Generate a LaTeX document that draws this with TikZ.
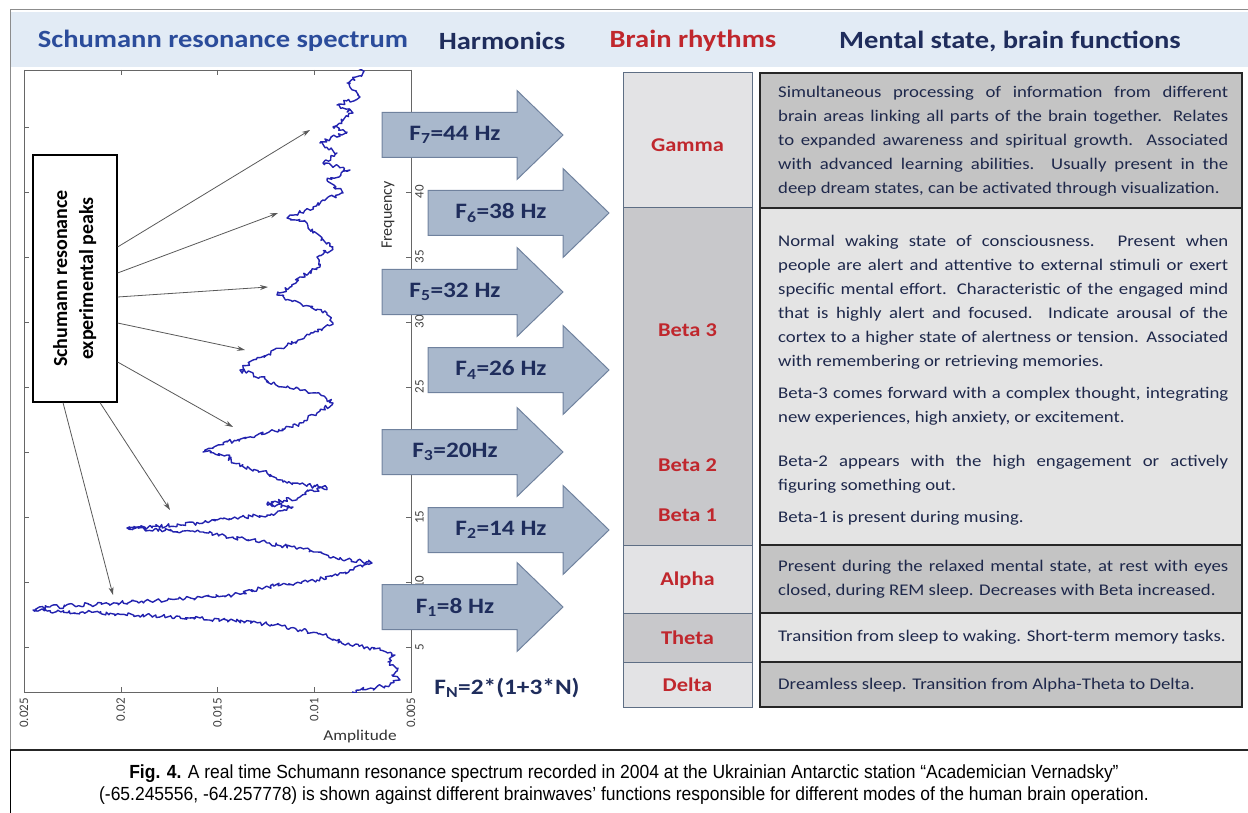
\documentclass[tikz,border=0pt]{standalone}
\usepackage{fontspec}
\setmainfont{Carlito}[FakeStretch=1.15]
\newfontfamily\plainfont{Carlito}
\newfontfamily\capfont{Liberation Sans}[FakeStretch=0.92]
\usetikzlibrary{arrows.meta,decorations.pathmorphing}

\definecolor{headblue}{RGB}{43,76,155}
\definecolor{navy}{RGB}{31,45,92}
\definecolor{desccol}{RGB}{30,40,75}
\definecolor{rhythmred}{RGB}{192,39,45}
\definecolor{bandblue}{RGB}{226,235,245}
\definecolor{arrowfill}{RGB}{169,184,204}
\definecolor{arrowline}{RGB}{112,130,158}
\definecolor{cellline}{RGB}{94,110,132}
\definecolor{lightcell}{RGB}{227,227,229}
\definecolor{darkcell}{RGB}{200,200,203}
\definecolor{lightdesc}{RGB}{228,228,228}
\definecolor{darkdesc}{RGB}{196,196,196}
\definecolor{spec}{RGB}{35,35,175}

\tikzset{
  header/.style={font=\fontsize{24.8}{28}\selectfont\bfseries},
  harm/.style={fill=arrowfill, draw=arrowline, line width=1pt},
  harmtext/.style={font=\fontsize{22}{26}\selectfont\bfseries, text=navy},
  rhythm/.style={font=\fontsize{19.5}{22}\selectfont\bfseries, text=rhythmred},
  cell/.style={draw=cellline, line width=1pt},
  desc/.style={draw=black!85, line width=1.5pt},
  desctext/.style={font=\fontsize{16.3}{24}\selectfont, text=desccol, text width=450pt,
    align=justify, anchor=base west, inner sep=0pt},
  tick/.style={font=\plainfont\fontsize{13}{15}\selectfont, text=black!75, inner sep=1pt},
  peakarrow/.style={draw=black!65, line width=0.8pt, -{Stealth[length=8pt,width=5pt]}},
}

\begin{document}
\begin{tikzpicture}[x=1pt, y=-1pt]
    \useasboundingbox (0,0) rectangle (1248,813);

    % Frame and header band
    \fill[bandblue] (10,12) rectangle (1248,67);
    \draw[black!45, line width=1pt] (1248,10) -- (10,10) -- (10,750);
    \node[header, text=headblue] (hspec) at (223,41) {Schumann resonance spectrum};
    \node[header, text=navy] (hharm) at (502,41) {Harmonics};
    \node[header, text=rhythmred] (hrhythm) at (693,41) {Brain rhythms};
    \node[header, text=navy] (hmental) at (1010,41) {Mental state, brain functions};

    % Spectrum plot
    \draw[black!60, line width=0.8pt] (24,70) rectangle (411,692);
    \foreach \a in {0,...,4} {
        \draw[black!60] (24+96.75*\a,692) -- ++(0,-5);
        \draw[black!60] (24+96.75*\a,70) -- ++(0,5);
    }
    \foreach \f in {5,10,...,45} {
        \draw[black!60] (411,712-13*\f) -- ++(-5,0);
        \draw[black!60] (24,712-13*\f) -- ++(5,0);
        \node[tick, rotate=90, anchor=north] (fq\f) at (414,712-13*\f) {\f};
    }
    \foreach \a/\t in {0/0.025,1/0.02,2/0.015,3/0.01,4/0.005}
        \node[tick, rotate=90, anchor=east] (amp\a) at (24+96.75*\a,697) {\t};
    \node[font=\plainfont\fontsize{16}{18}\selectfont, text=black!80, rotate=90] (freq) at (388,215) {Frequency};
    \node[font=\fontsize{15}{18}\selectfont, text=black!80] (ampl) at (360,736) {Amplitude};

    \begin{scope}
        \clip (24,70) rectangle (411,692);
        \pgfmathsetseed{4711}
        \draw[spec, line width=1.4pt, line join=round, decorate,
              decoration={random steps, segment length=2.2pt, amplitude=2.2pt}]
            plot coordinates {(352,692) (360,690) (385,686) (400,680) (392,675) (398,668)
            (388,662) (395,655) (380,650) (350,645) (323,635) (300,630) (267,624) (200,618)
            (100,613) (33,610) (50,607) (150,601) (233,595) (260,588) (317,580) (343,573)
            (372,563) (333,557) (317,552) (267,543) (233,537) (200,532) (127,528) (183,525)
            (217,520) (267,515) (293,507) (267,504) (300,497) (310,490) (327,488) (283,482)
            (267,473) (233,463) (227,455) (203,452) (227,442) (267,433) (293,427) (317,413)
            (333,403) (317,393) (283,387) (260,377) (240,370) (253,360) (293,343) (313,333)
            (333,323) (327,313) (300,303) (277,295) (290,287) (300,277) (320,267) (317,257)
            (333,247) (313,233) (307,223) (287,218) (313,207) (323,200) (343,193) (327,180)
            (350,170) (323,163) (337,153) (320,143) (347,132) (333,127) (353,113) (337,105)
            (360,97) (347,83) (363,73) (358,68)};
    \end{scope}

    % Peak label and its arrows
    \node[draw=black, line width=1.2pt, fill=white, minimum width=84pt, minimum height=247pt,
          inner sep=0pt] (peaks) at (75,278.5)
        {\rotatebox{90}{\plainfont\fontsize{20}{26}\selectfont\bfseries
         \begin{tabular}{@{}c@{}}Schumann resonance\\experimental peaks\end{tabular}}};
    \coordinate (pk7) at (310,130);
    \coordinate (pk6) at (278,213);
    \coordinate (pk5) at (268,287);
    \coordinate (pk4) at (245,350);
    \coordinate (pk3) at (233,427);
    \coordinate (pk2) at (170,510);
    \coordinate (pk1) at (113,595);
    \draw[peakarrow] ([yshift=31.5pt]peaks.east) -- (pk7);
    \draw[peakarrow] ([yshift=5.5pt]peaks.east) -- (pk6);
    \draw[peakarrow] ([yshift=-18.5pt]peaks.east) -- (pk5);
    \draw[peakarrow] ([yshift=-44.5pt]peaks.east) -- (pk4);
    \draw[peakarrow] ([yshift=-83.5pt]peaks.east) -- (pk3);
    \draw[peakarrow] ([xshift=25pt]peaks.south) -- (pk2);
    \draw[peakarrow] ([xshift=-12pt]peaks.south) -- (pk1);

    % Harmonics
    \foreach \n/\x/\y/\hz in {7/382/135/44 Hz, 6/428/213/38 Hz, 5/382/292/32 Hz,
                              4/428/370/26 Hz, 3/382/452/20Hz, 2/428/530/14 Hz, 1/382/607/8 Hz} {
        \draw[harm] (\x,\y-22.5) -- ++(135,0) -- ++(0,-22) -- (\x+181,\y)
            -- (\x+135,\y+44.5) -- ++(0,-22) -- (\x,\y+22.5) -- cycle;
        \node[harmtext] (h\n) at (\x+73,\y) {F\textsubscript{\n}=\hz};
    }
    \node[harmtext] (fn) at (507,688) {F\textsubscript{N}=2*(1+3*N)};

    % Brain rhythms column
    \draw[cell, fill=lightcell] (623,73) rectangle (752,208);
    \draw[cell, fill=darkcell] (623,208) rectangle (752,545);
    \draw[cell, fill=lightcell] (623,545) rectangle (752,613);
    \draw[cell, fill=darkcell] (623,613) rectangle (752,662);
    \draw[cell, fill=lightcell] (623,662) rectangle (752,707);
    \node[rhythm] (gamma) at (687.5,145) {Gamma};
    \node[rhythm] (beta3) at (687.5,330) {Beta 3};
    \node[rhythm] (beta2) at (687.5,465) {Beta 2};
    \node[rhythm] (beta1) at (687.5,515) {Beta 1};
    \node[rhythm] (alpha) at (687.5,580) {Alpha};
    \node[rhythm] (theta) at (687.5,638) {Theta};
    \node[rhythm] (delta) at (687.5,685) {Delta};

    % Mental state column
    \draw[desc, fill=darkdesc] (760,73) rectangle (1242,208);
    \draw[desc, fill=lightdesc] (760,208) rectangle (1242,545);
    \draw[desc, fill=darkdesc] (760,545) rectangle (1242,613);
    \draw[desc, fill=lightdesc] (760,613) rectangle (1242,662);
    \draw[desc, fill=darkdesc] (760,662) rectangle (1242,707);
    \node[desctext] (dgamma) at (778,97.5) {Simultaneous processing of information from different\linebreak
        brain areas linking all parts of the brain together. Relates\linebreak
        to expanded awareness and spiritual growth. Associated\linebreak
        with advanced learning abilities. Usually present in the\linebreak
        deep dream states, can be activated through visualization.};
    \node[desctext] (dbeta) at (778,246.5) {Normal waking state of consciousness. Present when\linebreak
        people are alert and attentive to external stimuli or exert\linebreak
        specific mental effort. Characteristic of the engaged mind\linebreak
        that is highly alert and focused. Indicate arousal of the\linebreak
        cortex to a higher state of alertness or tension. Associated\linebreak
        with remembering or retrieving memories.};
    \node[desctext] (dbeta3) at (778,398) {Beta-3 comes forward with a complex thought, integrating\linebreak
        new experiences, high anxiety, or excitement.};
    \node[desctext] (dbeta2) at (778,466) {Beta-2 appears with the high engagement or actively\linebreak
        figuring something out.};
    \node[desctext] (dbeta1) at (778,522) {Beta-1 is present during musing.};
    \node[desctext] (dalpha) at (778,571) {Present during the relaxed mental state, at rest with eyes\linebreak
        closed, during REM sleep. Decreases with Beta increased.};
    \node[desctext] (dtheta) at (778,641) {Transition from sleep to waking. Short-term memory tasks.};
    \node[desctext] (ddelta) at (778,689) {Dreamless sleep. Transition from Alpha-Theta to Delta.};

    % Caption
    \draw[black!85, line width=2.5pt] (10,750) -- (1248,750);
    \draw[black, line width=1pt] (10,750) -- (10,813);
    \node[font=\capfont\fontsize{19}{22}\selectfont, align=center] (caption) at (624,785)
        {\textbf{Fig. 4.} A real time Schumann resonance spectrum recorded in 2004 at the Ukrainian Antarctic station “Academician Vernadsky”\\
         (-65.245556, -64.257778) is shown against different brainwaves’ functions responsible for different modes of the human brain operation.};

\end{tikzpicture}
\end{document}
